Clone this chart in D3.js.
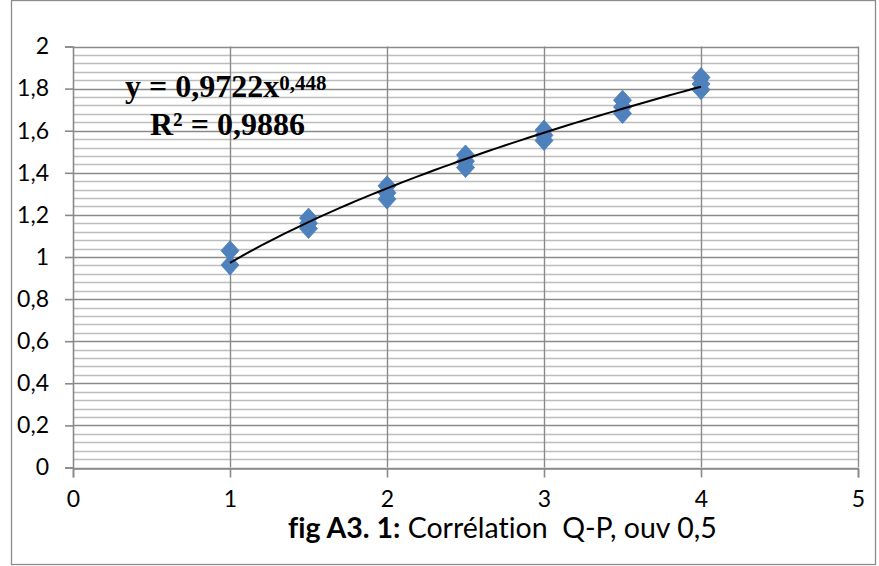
<!DOCTYPE html>
<html>
<head>
<meta charset="utf-8">
<script src="https://cdn.jsdelivr.net/npm/d3@7"></script>
<style>
  html, body { margin: 0; padding: 0; background: #fff; }
  svg { display: block; }
</style>
</head>
<body>
<svg id="chart" width="879" height="566"></svg>
<script>
// Measured discharge Q against pressure P, several repeats per step
const xValues = [1, 1, 1.5, 1.5, 1.5, 2, 2, 2, 2.5, 2.5, 2.5, 3, 3, 3, 3.5, 3.5, 3.5, 4, 4, 4];
const yValues = [0.962, 1.030, 1.135, 1.160, 1.185, 1.275, 1.305, 1.338, 1.425, 1.455, 1.485, 1.553, 1.578, 1.603, 1.682, 1.712, 1.745, 1.795, 1.822, 1.853];

// Power-law fit y = a * x^b
const fitA = 0.9722;
const fitB = 0.448;
const fitRange = [1, 4];
const equationText = "y = 0,9722x";
const exponentText = "0,448";
const r2Text = "R² = 0,9886";

const xTicks = [0, 1, 2, 3, 4, 5];
const yTicks = [0, 0.2, 0.4, 0.6, 0.8, 1, 1.2, 1.4, 1.6, 1.8, 2];
const yMinorStep = 0.04;
const captionBold = "fig A3. 1:";
const captionRest = " Corrélation  Q-P, ouv 0,5";

const svg = d3.select("#chart");
const plot = { left: 73, right: 858, top: 46.5, bottom: 467.5 };

const x = d3.scaleLinear().domain([0, 5]).range([plot.left, plot.right]);
const y = d3.scaleLinear().domain([0, 2]).range([plot.bottom, plot.top]);
const fmt = v => String(+v.toFixed(2)).replace(".", ",");
const sans = "Lato, 'Open Sans', sans-serif";
const serif = "'Liberation Serif', 'Times New Roman', serif";

// Outer chart frame
svg.append("rect")
  .attr("x", 11.5).attr("y", 0.5)
  .attr("width", 864).attr("height", 564)
  .attr("fill", "#fff").attr("stroke", "#8c8c8c").attr("stroke-width", 1.3);

// Minor horizontal gridlines
const minor = d3.range(0, 2 + 1e-9, yMinorStep).filter(v => Math.abs(v / 0.2 - Math.round(v / 0.2)) > 1e-6);
svg.append("g").selectAll("line").data(minor).join("line")
  .attr("x1", plot.left).attr("x2", plot.right)
  .attr("y1", d => Math.round(y(d)) + 0.5).attr("y2", d => Math.round(y(d)) + 0.5)
  .attr("stroke", "#bdbdbd").attr("stroke-width", 1.4);

// Major horizontal gridlines
svg.append("g").selectAll("line").data(yTicks).join("line")
  .attr("x1", plot.left).attr("x2", plot.right)
  .attr("y1", d => Math.round(y(d)) + 0.5).attr("y2", d => Math.round(y(d)) + 0.5)
  .attr("stroke", "#8a8a8a").attr("stroke-width", 1.4);

// Vertical gridlines
svg.append("g").selectAll("line").data(xTicks.slice(1)).join("line")
  .attr("x1", d => Math.round(x(d)) + 0.5).attr("x2", d => Math.round(x(d)) + 0.5)
  .attr("y1", plot.top).attr("y2", plot.bottom)
  .attr("stroke", "#8a8a8a").attr("stroke-width", 1.4);

// Axes
const yAxis = d3.axisLeft(y).tickValues(yTicks).tickFormat(fmt).tickSize(8).tickPadding(16);
const xAxis = d3.axisBottom(x).tickValues(xTicks).tickFormat(fmt).tickSize(9).tickPadding(13);

const gy = svg.append("g").attr("transform", `translate(${plot.left},0)`).call(yAxis);
const gx = svg.append("g").attr("transform", `translate(0,${Math.round(plot.bottom) + 0.5})`).call(xAxis);
[gx, gy].forEach(g => {
  g.select(".domain").attr("stroke", "#8a8a8a").attr("stroke-width", 1.6);
  g.selectAll(".tick line").attr("stroke", "#8a8a8a").attr("stroke-width", 1.6);
  g.selectAll(".tick text")
    .attr("fill", "#000")
    .style("font-family", sans)
    .style("font-size", "23px");
});

// Data markers (diamonds)
const hw = 9, hh = 10;
const diamond = `M0,${-hh}L${hw},0L0,${hh}L${-hw},0Z`;
svg.append("g").selectAll("path").data(xValues.map((v, i) => [v, yValues[i]])).join("path")
  .attr("d", diamond)
  .attr("transform", d => `translate(${x(d[0])},${y(d[1])})`)
  .attr("fill", "#4f81bd")
  .attr("stroke", "#4a7ebb").attr("stroke-width", 0.8);

// Power trendline
const curveX = d3.range(fitRange[0], fitRange[1] + 1e-9, 0.05);
svg.append("path")
  .datum(curveX)
  .attr("d", d3.line().x(v => x(v)).y(v => y(fitA * Math.pow(v, fitB))))
  .attr("fill", "none").attr("stroke", "#000").attr("stroke-width", 2);

// Equation and R² label
const eq = svg.append("text")
  .attr("x", 125).attr("y", 97)
  .style("font-family", serif)
  .style("font-weight", "bold").style("font-size", "32px")
  .attr("fill", "#000");
eq.append("tspan").text(equationText);
eq.append("tspan").attr("dy", -7).style("font-size", "21px").text(exponentText);

svg.append("text")
  .attr("x", 150).attr("y", 135)
  .style("font-family", serif)
  .style("font-weight", "bold").style("font-size", "32px")
  .attr("fill", "#000").text(r2Text);

// Caption
const cap = svg.append("text")
  .attr("x", 288).attr("y", 538)
  .style("font-family", sans)
  .style("font-variant-ligatures", "none")
  .style("font-size", "28.5px").attr("fill", "#000")
  .style("white-space", "pre");
cap.append("tspan").style("font-weight", "bold").text(captionBold);
cap.append("tspan").text(captionRest);
</script>
</body>
</html>
